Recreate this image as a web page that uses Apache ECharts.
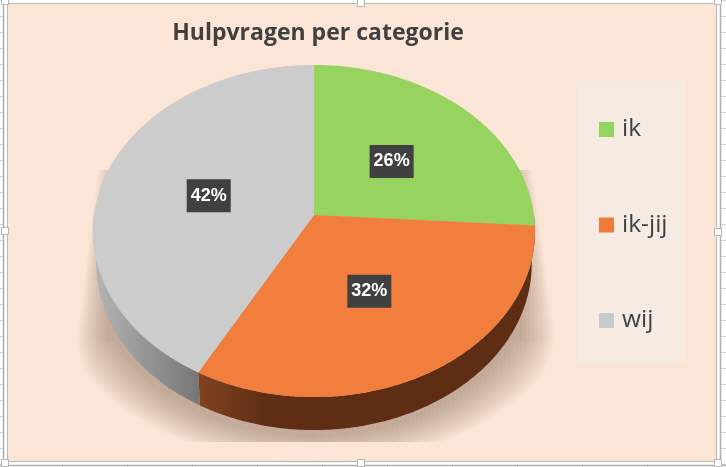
<!DOCTYPE html>
<html><head><meta charset="utf-8">
<style>html,body{margin:0;padding:0;background:#fff}#c{width:726px;height:467px}</style>
<script src="https://cdn.jsdelivr.net/npm/echarts@6/dist/echarts.min.js"></script>
</head><body><div id="c"></div>
<script>
const categories = ['ik', 'ik-jij', 'wij'];
const values = [26, 32, 42];
const topColors = ['#97d35f', '#f17e3c', '#cccccc'];
const legendColors = ['#97d35f', '#ee7b3a', '#c9c9c9'];
const chartTitle = 'Hulpvragen per categorie';

// perspective-tilted pie projection
const CX = 314, CY = 215, RX = 220, A = 164.5, K = -0.0964, DEPTH = 33;
const total = values.reduce((a, b) => a + b, 0);
function proj(theta, r) {
  const t = -Math.cos(theta) * r, s = Math.sin(theta) * r, w = 1 + K * t;
  return [CX + RX * s / w, CY + A * t / w];
}
function base(theta) {
  const p = proj(theta, 1);
  return [CX + (p[0] - CX) * 0.985, p[1] + DEPTH];
}
function arc(a0, a1, fn) {
  const pts = [], n = Math.max(2, Math.ceil(Math.abs(a1 - a0) / 0.01));
  for (let i = 0; i <= n; i++) pts.push(fn(a0 + (a1 - a0) * i / n));
  return pts;
}
const ang = v => v / total * Math.PI * 2;
function wallGradient(i) {
  if (i === 1) return new echarts.graphic.LinearGradient(200, 0, 268, 0, [
    { offset: 0, color: '#80421f' }, { offset: 1, color: '#5e2d14' }], true);
  return new echarts.graphic.LinearGradient(96, 0, 202, 0, [
    { offset: 0, color: '#b4b4b4' }, { offset: 1, color: '#747474' }], true);
}
function renderSlice(i) {
  return function () {
    const start = values.slice(0, i).reduce((a, b) => a + b, 0);
    const a0 = ang(start), a1 = ang(start + values[i]);
    const children = [];
    // visible side wall: only the lower part of the rim
    const w0 = Math.max(a0, Math.PI * 0.5), w1 = Math.min(a1, Math.PI * 1.5);
    if (w1 > w0) {
      const wall = arc(w0, w1, a => proj(a, 1)).concat(arc(w0, w1, base).reverse());
      children.push({ type: 'polygon', shape: { points: wall }, style: { fill: wallGradient(i) } });
    }
    const face = [proj(0, 0)].concat(arc(a0, a1, a => proj(a, 1)));
    children.push({ type: 'polygon', shape: { points: face }, style: { fill: topColors[i] } });
    const m = proj((a0 + a1) / 2, 0.5);
    children.push({
      type: 'text', x: m[0], y: m[1] + 1, z2: 10,
      style: {
        text: values[i] + '%', x: 0, y: 0, align: 'center', verticalAlign: 'middle',
        fill: '#fff', font: 'bold 18px "Liberation Sans", Arial, sans-serif',
        backgroundColor: '#404040', padding: [8, 4, 7, 4],
        boxShadowBlur: 5, boxShadowColor: 'rgba(0,0,0,0.45)', boxShadowOffsetX: 2, boxShadowOffsetY: 2
      }
    });
    return { type: 'group', children };
  };
}

const decoration = [];
const gridC = '#aeaeae';
function vline(x, y0, y1, c, w) { decoration.push({ type: 'line', silent: true, z: 1, shape: { x1: x, y1: y0, x2: x, y2: y1 }, style: { stroke: c, lineWidth: w } }); }
function hline(y, x0, x1, c, w) { decoration.push({ type: 'line', silent: true, z: 1, shape: { x1: x0, y1: y, x2: x1, y2: y }, style: { stroke: c, lineWidth: w } }); }
vline(3.5, 0, 467, gridC, 1.5); vline(720.5, 0, 467, gridC, 1.5); hline(465.5, 0, 726, gridC, 1.5);
for (let y = 0; y < 467; y += 16) { hline(y + 0.5, 0, 3, '#cfcfcf', 1); hline(y + 0.5, 721, 726, '#cfcfcf', 1); }
for (let x = 62; x < 726; x += 65) vline(x + 0.5, 466, 467, '#cfcfcf', 1);
decoration.push({ type: 'rect', silent: true, z: 2, shape: { x: 7.5, y: 3.5, width: 709, height: 458 }, style: { fill: '#fbe5d6', stroke: '#bdb6b2', lineWidth: 1 } });
// soft shadow under the pie: stacked translucent outlines, wider and fainter outward
const LAYERS = 18;
for (let l = 0; l < LAYERS; l++) {
  const e = l / (LAYERS - 1), sx = 1 + 0.16 * e, dy = DEPTH + 6 + 28 * e;
  const rim = arc(Math.PI * 1.33, Math.PI * 0.67, a => { const p = proj(a, 1); return [CX + (p[0] - CX) * sx, p[1] + dy]; });
  const pts = [[108 - 10 * e, 170], [108 - 31 * e, 340]].concat(rim).concat([[522 + 33 * e, 340], [522 + 10 * e, 170]]);
  decoration.push({
    type: 'polygon', silent: true, z: 3, shape: { points: pts },
    style: {
      fill: new echarts.graphic.LinearGradient(0, 170, 0, 260, [
        { offset: 0, color: 'rgba(110,80,60,0.012)' }, { offset: 1, color: 'rgba(110,80,60,0.026)' }], true)
    }
  });
}
decoration.push({ type: 'rect', silent: true, z: 4, shape: { x: 8, y: 442, width: 708, height: 19 }, style: { fill: '#fbe5d6' } });
decoration.push({ type: 'rect', silent: true, z: 4, shape: { x: 577, y: 81, width: 108, height: 282 }, style: { fill: '#f5ebe2' } });
[[5, 1], [361, 3], [718, 1], [5, 231], [718, 232], [5, 463], [361, 463], [718, 463]].forEach(h => {
  decoration.push({ type: 'rect', silent: true, z: 5, shape: { x: h[0] - 3.5, y: h[1] - 3.5, width: 7, height: 7 }, style: { fill: '#fff', stroke: '#b5b5b5', lineWidth: 1 } });
});

const chart = echarts.init(document.getElementById('c'), null, { renderer: 'canvas' });
chart.setOption({
  animation: false,
  backgroundColor: '#ffffff',
  graphic: { elements: decoration },
  title: {
    text: chartTitle, left: 313, top: 17, textAlign: 'center',
    textStyle: { fontFamily: '"Open Sans", sans-serif', fontWeight: 'bold', fontSize: 23, color: '#404040' }
  },
  legend: {
    orient: 'vertical', left: 599, top: 112.5, padding: 0, itemWidth: 15, itemHeight: 15, itemGap: 61.5, icon: 'rect',
    data: categories, selectedMode: false,
    textStyle: { fontFamily: '"Open Sans", sans-serif', fontSize: 24.5, color: '#404040', height: 32, lineHeight: 32, padding: [2, 0, 0, 3] }
  },
  series: categories.map((name, i) => ({
    type: 'custom', name, coordinateSystem: 'none', silent: true, z: 5, clip: false,
    itemStyle: { color: legendColors[i] },
    data: [[values[i]]],
    renderItem: renderSlice(i)
  }))
});
</script></body></html>
